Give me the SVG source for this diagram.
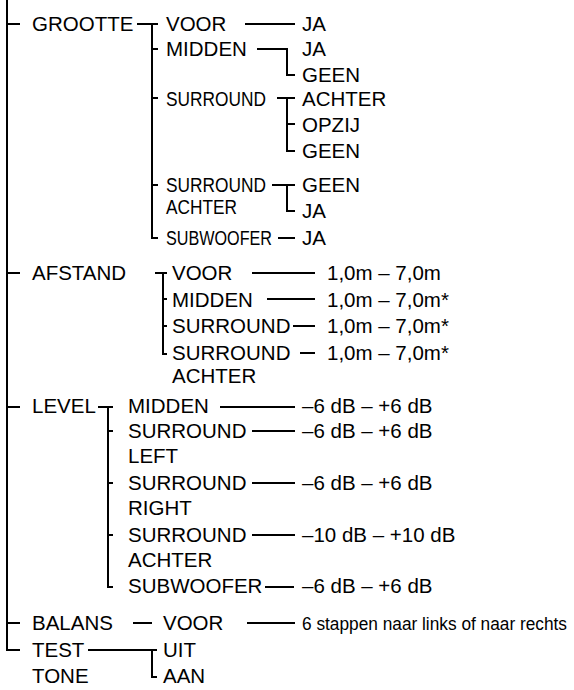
<svg xmlns="http://www.w3.org/2000/svg" width="574" height="690" viewBox="0 0 574 690">
<style>
text{font-family:"Liberation Sans",Arial,sans-serif;font-size:20.5px;fill:#000}
.c{stroke:#000;stroke-width:2;fill:none}
</style>
<rect width="574" height="690" fill="#fff"/>
<g id="connectors" class="c">
<path d="M7 0V650H20M7 24H20M7 273H20M7 407H20M7 623H20"/>
<path d="M137 24H158M152 24V238H158M152 49H158M152 98H158M152 185H158"/>
<path d="M245 24H295M257 49H287V75H295M277 98H295M287 98V151H295M287 124H295M272 185H295M287 185V211H295M278 238H295"/>
<path d="M155 273H167M163 273V354H167M163 299H167M163 326H167"/>
<path d="M252 273H315M267 299H315M293 326H315M300 353H315"/>
<path d="M98 407H113M108 407V587H113M108 431H113M108 483H113M108 535H113"/>
<path d="M220 407H295M252 431H295M252 483H295M252 535H295M265 587H294"/>
<path d="M133 623H152M247 623H295"/>
<path d="M88 650H157M152 650V677H157"/>
</g>
<g id="grootte"><text x="32" y="30.5">GROOTTE</text></g>
<g id="grootte-voor"><text x="166" y="30.5">VOOR</text></g>
<g id="grootte-voor-ja"><text x="302" y="30.5">JA</text></g>
<g id="grootte-midden"><text x="166" y="56">MIDDEN</text></g>
<g id="grootte-midden-ja"><text x="302" y="56">JA</text></g>
<g id="grootte-midden-geen"><text x="302" y="82">GEEN</text></g>
<g id="grootte-surround"><text x="166" y="106" textLength="100" lengthAdjust="spacingAndGlyphs">SURROUND</text></g>
<g id="grootte-surround-achter"><text x="302" y="106">ACHTER</text></g>
<g id="grootte-surround-opzij"><text x="302" y="132">OPZIJ</text></g>
<g id="grootte-surround-geen"><text x="302" y="158">GEEN</text></g>
<g id="grootte-surround-achter-node"><text x="166" y="192" textLength="100" lengthAdjust="spacingAndGlyphs">SURROUND</text><text x="166" y="214" textLength="71" lengthAdjust="spacingAndGlyphs">ACHTER</text></g>
<g id="grootte-sa-geen"><text x="302" y="192">GEEN</text></g>
<g id="grootte-sa-ja"><text x="302" y="218">JA</text></g>
<g id="grootte-subwoofer"><text x="166" y="245" textLength="106" lengthAdjust="spacingAndGlyphs">SUBWOOFER</text></g>
<g id="grootte-subwoofer-ja"><text x="302" y="245">JA</text></g>
<g id="afstand"><text x="32" y="280">AFSTAND</text></g>
<g id="afstand-voor"><text x="172" y="280">VOOR</text></g>
<g id="afstand-voor-val"><text x="327" y="280">1,0m – 7,0m</text></g>
<g id="afstand-midden"><text x="172" y="307">MIDDEN</text></g>
<g id="afstand-midden-val"><text x="327" y="307">1,0m – 7,0m*</text></g>
<g id="afstand-surround"><text x="172" y="333">SURROUND</text></g>
<g id="afstand-surround-val"><text x="327" y="333">1,0m – 7,0m*</text></g>
<g id="afstand-sa"><text x="172" y="360">SURROUND</text><text x="172" y="383">ACHTER</text></g>
<g id="afstand-sa-val"><text x="327" y="360">1,0m – 7,0m*</text></g>
<g id="level"><text x="32" y="413">LEVEL</text></g>
<g id="level-midden"><text x="128" y="413">MIDDEN</text></g>
<g id="level-midden-val"><text x="302" y="413">–6 dB – +6 dB</text></g>
<g id="level-sl"><text x="128" y="438">SURROUND</text><text x="128" y="463">LEFT</text></g>
<g id="level-sl-val"><text x="302" y="438">–6 dB – +6 dB</text></g>
<g id="level-sr"><text x="128" y="490">SURROUND</text><text x="128" y="515">RIGHT</text></g>
<g id="level-sr-val"><text x="302" y="490">–6 dB – +6 dB</text></g>
<g id="level-sa"><text x="128" y="542">SURROUND</text><text x="128" y="567">ACHTER</text></g>
<g id="level-sa-val"><text x="302" y="542">–10 dB – +10 dB</text></g>
<g id="level-subwoofer"><text x="128" y="593">SUBWOOFER</text></g>
<g id="level-subwoofer-val"><text x="302" y="593">–6 dB – +6 dB</text></g>
<g id="balans"><text x="32" y="630">BALANS</text></g>
<g id="balans-voor"><text x="163" y="630">VOOR</text></g>
<g id="balans-voor-val"><text x="302" y="630" style="font-size:17.5px" textLength="265" lengthAdjust="spacingAndGlyphs">6 stappen naar links of naar rechts</text></g>
<g id="testtone"><text x="32" y="657">TEST</text><text x="32" y="683">TONE</text></g>
<g id="testtone-uit"><text x="163" y="657">UIT</text></g>
<g id="testtone-aan"><text x="163" y="683">AAN</text></g>
</svg>
